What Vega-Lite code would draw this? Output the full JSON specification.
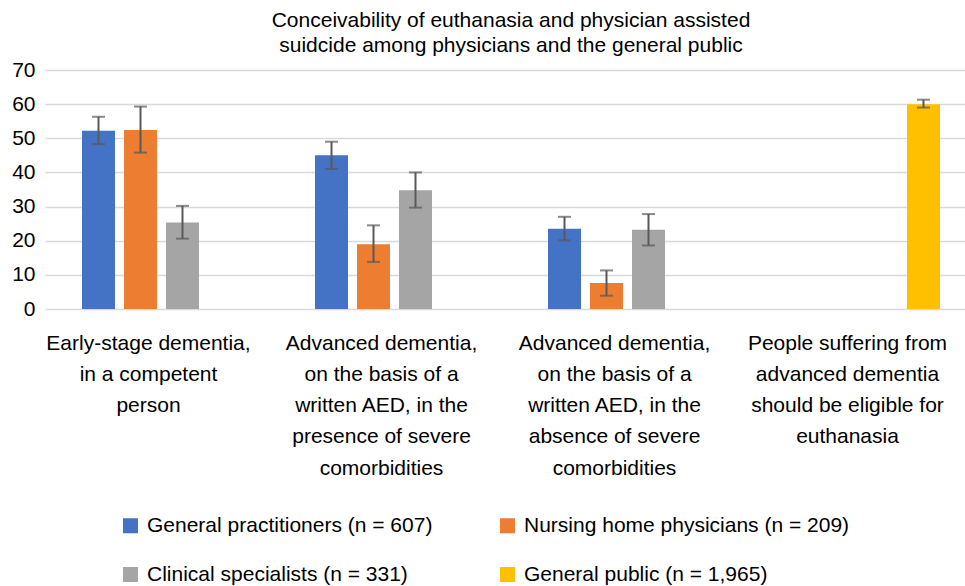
{
  "$schema": "https://vega.github.io/schema/vega-lite/v6.json",
  "autosize": {"type": "none"},
  "padding": {"left": 45, "top": 70, "right": 0, "bottom": 277},
  "width": 920,
  "height": 239,
  "background": "white",
  "config": {
    "font": "Liberation Sans",
    "view": {"stroke": null}
  },
  "title": {
    "text": ["Conceivability of euthanasia and physician assisted", "suidcide among physicians and the general public"],
    "fontSize": 21,
    "fontWeight": "normal",
    "color": "#000000",
    "anchor": "middle",
    "lineHeight": 25,
    "offset": 3,
    "dx": 6
  },
  "data": {
    "values": [
      {"category": "Early-stage dementia,|in a competent|person", "group": "General practitioners (n = 607)", "value": 52.2, "lo": 48.3, "hi": 56.3},
      {"category": "Early-stage dementia,|in a competent|person", "group": "Nursing home physicians (n = 209)", "value": 52.4, "lo": 45.8, "hi": 59.3},
      {"category": "Early-stage dementia,|in a competent|person", "group": "Clinical specialists (n = 331)", "value": 25.3, "lo": 20.6, "hi": 30.2},
      {"category": "Advanced dementia,|on the basis of a|written AED, in the|presence of severe|comorbidities", "group": "General practitioners (n = 607)", "value": 45.0, "lo": 41.0, "hi": 49.0},
      {"category": "Advanced dementia,|on the basis of a|written AED, in the|presence of severe|comorbidities", "group": "Nursing home physicians (n = 209)", "value": 19.0, "lo": 13.8, "hi": 24.5},
      {"category": "Advanced dementia,|on the basis of a|written AED, in the|presence of severe|comorbidities", "group": "Clinical specialists (n = 331)", "value": 34.8, "lo": 29.7, "hi": 40.0},
      {"category": "Advanced dementia,|on the basis of a|written AED, in the|absence of severe|comorbidities", "group": "General practitioners (n = 607)", "value": 23.5, "lo": 20.1, "hi": 27.0},
      {"category": "Advanced dementia,|on the basis of a|written AED, in the|absence of severe|comorbidities", "group": "Nursing home physicians (n = 209)", "value": 7.6, "lo": 3.9, "hi": 11.3},
      {"category": "Advanced dementia,|on the basis of a|written AED, in the|absence of severe|comorbidities", "group": "Clinical specialists (n = 331)", "value": 23.2, "lo": 18.6, "hi": 27.8},
      {"category": "People suffering from|advanced dementia|should be eligible for|euthanasia", "group": "General public (n = 1,965)", "value": 60.0, "lo": 59.0, "hi": 61.3}
    ]
  },
  "encoding": {
    "x": {
      "field": "category",
      "type": "nominal",
      "sort": null,
      "scale": {"range": [0, 932], "paddingInner": 0, "paddingOuter": 0},
      "axis": {
        "title": null,
        "domain": false,
        "ticks": false,
        "labelAngle": 0,
        "labelExpr": "split(datum.value, '|')",
        "labelFontSize": 21,
        "labelColor": "#000000",
        "labelLineHeight": 31.3,
        "labelPadding": 23,
        "labelBaseline": "top",
        "labelOffset": -13,
        "labelLimit": 400
      }
    },
    "xOffset": {
      "field": "group",
      "type": "nominal",
      "scale": {
        "domain": ["General practitioners (n = 607)", "Nursing home physicians (n = 209)", "Clinical specialists (n = 331)", "General public (n = 1,965)"],
        "paddingInner": 0.214,
        "paddingOuter": 0.881
      }
    }
  },
  "layer": [
    {
      "mark": {"type": "bar"},
      "encoding": {
        "y": {
          "field": "value",
          "type": "quantitative",
          "scale": {"domain": [0, 70]},
          "axis": {
            "title": null,
            "domain": false,
            "ticks": false,
            "values": [0, 10, 20, 30, 40, 50, 60, 70],
            "labelOverlap": false,
            "labelFontSize": 21,
            "labelColor": "#000000",
            "labelPadding": 10,
            "gridColor": "#d9d9d9",
            "gridWidth": 1.5
          }
        },
        "color": {
          "field": "group",
          "type": "nominal",
          "scale": {
            "domain": ["General practitioners (n = 607)", "Nursing home physicians (n = 209)", "Clinical specialists (n = 331)", "General public (n = 1,965)"],
            "range": ["#4472C4", "#ED7D31", "#A5A5A5", "#FFC000"]
          },
          "legend": {
            "title": null,
            "orient": "none",
            "legendX": 75,
            "legendY": 445,
            "direction": "horizontal",
            "columns": 2,
            "columnPadding": 64,
            "rowPadding": 27,
            "symbolType": "square",
            "symbolSize": 225,
            "symbolStrokeWidth": 0,
            "symbolOpacity": 1,
            "labelFontSize": 21,
            "labelColor": "#000000",
            "labelLimit": 500,
            "labelOffset": 6
          }
        }
      }
    },
    {
      "mark": {"type": "rule", "color": "#595959", "strokeWidth": 2},
      "encoding": {
        "y": {
          "field": "lo",
          "type": "quantitative",
          "axis": {
            "title": null,
            "domain": false,
            "ticks": false,
            "values": [0, 10, 20, 30, 40, 50, 60, 70],
            "labelOverlap": false,
            "labelFontSize": 21,
            "labelColor": "#000000",
            "labelPadding": 10,
            "gridColor": "#d9d9d9",
            "gridWidth": 1.5
          }
        },
        "y2": {"field": "hi"}
      }
    },
    {
      "mark": {"type": "tick", "color": "#595959", "thickness": 2, "size": 13},
      "encoding": {
        "y": {"field": "lo", "type": "quantitative", "axis": {
            "title": null,
            "domain": false,
            "ticks": false,
            "values": [0, 10, 20, 30, 40, 50, 60, 70],
            "labelOverlap": false,
            "labelFontSize": 21,
            "labelColor": "#000000",
            "labelPadding": 10,
            "gridColor": "#d9d9d9",
            "gridWidth": 1.5
          }}
      }
    },
    {
      "mark": {"type": "tick", "color": "#595959", "thickness": 2, "size": 13},
      "encoding": {
        "y": {"field": "hi", "type": "quantitative", "axis": {
            "title": null,
            "domain": false,
            "ticks": false,
            "values": [0, 10, 20, 30, 40, 50, 60, 70],
            "labelOverlap": false,
            "labelFontSize": 21,
            "labelColor": "#000000",
            "labelPadding": 10,
            "gridColor": "#d9d9d9",
            "gridWidth": 1.5
          }}
      }
    }
  ]
}
